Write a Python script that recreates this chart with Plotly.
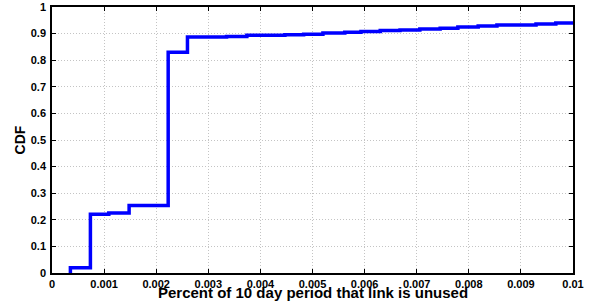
import plotly.graph_objects as go

# CDF step data (x = jump location, cdf = level after jump)
x_vals = [0.000353, 0.000353, 0.000737, 0.00109, 0.00148, 0.00223, 0.0026,
          0.00335, 0.00374, 0.00447, 0.00483, 0.0052, 0.00562, 0.00593,
          0.0063, 0.00668, 0.00706, 0.00745, 0.00779, 0.00818, 0.00854,
          0.00929, 0.00967, 0.01]
cdf_vals = [0.0, 0.02, 0.221, 0.226, 0.254, 0.830, 0.887,
            0.889, 0.894, 0.896, 0.898, 0.902, 0.905, 0.908,
            0.912, 0.914, 0.917, 0.920, 0.925, 0.929, 0.932,
            0.936, 0.940, 0.940]

x_ticks = [0, 0.001, 0.002, 0.003, 0.004, 0.005, 0.006, 0.007, 0.008, 0.009, 0.01]
x_tick_labels = ["0", "0.001", "0.002", "0.003", "0.004", "0.005", "0.006",
                 "0.007", "0.008", "0.009", "0.01"]
y_ticks = [0, 0.1, 0.2, 0.3, 0.4, 0.5, 0.6, 0.7, 0.8, 0.9, 1]
y_tick_labels = ["0", "0.1", "0.2", "0.3", "0.4", "0.5", "0.6", "0.7", "0.8", "0.9", "1"]
x_title = "Percent of 10 day period that link is unused"
y_title = "CDF"

fig = go.Figure()
fig.add_trace(go.Scatter(
    x=x_vals, y=cdf_vals, mode="lines", line_shape="hv",
    line=dict(color="#0000ff", width=3.5), showlegend=False,
))

font_family = "Liberation Sans, Arial, Helvetica, sans-serif"
axis_common = dict(
    showline=True, linecolor="black", linewidth=1.5, mirror="ticks",
    ticks="inside", ticklen=4, tickcolor="black", tickwidth=1.2,
    showgrid=True, gridcolor="#c4c4c4", gridwidth=1, griddash="1px,2px",
    zeroline=False, automargin=False,
    tickfont=dict(family=font_family, size=11, color="black", weight="bold"),
)

fig.update_layout(
    width=599, height=307,
    margin=dict(l=52, r=26, t=7, b=34),
    paper_bgcolor="white", plot_bgcolor="white",
    xaxis=dict(range=[0, 0.01], tickvals=x_ticks, ticktext=x_tick_labels,
               ticklabelstandoff=0, **axis_common),
    yaxis=dict(range=[0, 1], tickvals=y_ticks, ticktext=y_tick_labels,
               ticklabelstandoff=2,
               title=dict(text=y_title,
                          font=dict(family=font_family, size=14, color="black", weight="bold"),
                          standoff=2),
               **axis_common),
    annotations=[dict(
        text=x_title, xref="paper", yref="paper", x=0.5, y=0,
        xanchor="center", yanchor="middle", yshift=-19, showarrow=False,
        font=dict(family=font_family, size=15, color="black", weight="bold"),
    )],
)

fig.write_html("out.html", config={"displayModeBar": False},
               post_script="document.body.style.margin='0';document.body.style.overflow='hidden';")
